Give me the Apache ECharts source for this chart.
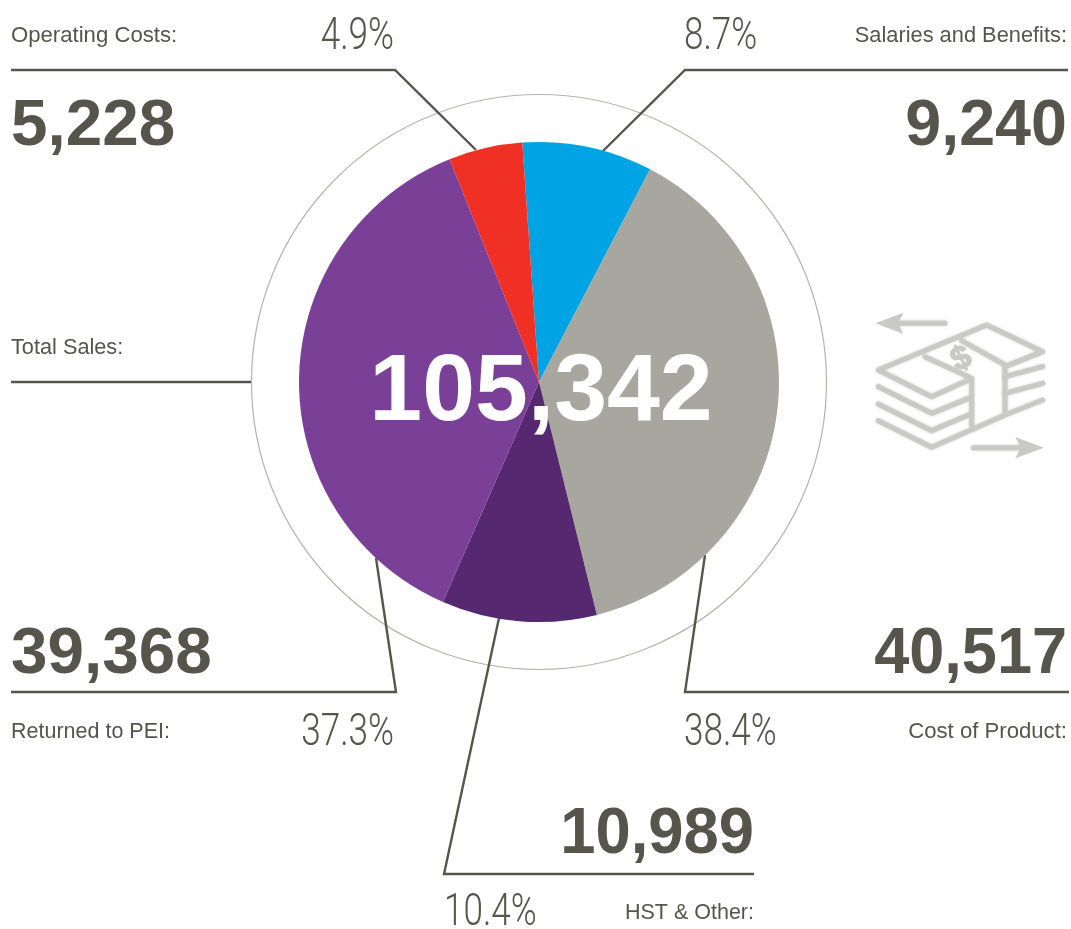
<!DOCTYPE html>
<html>
<head>
<meta charset="utf-8">
<title>Sales</title>
<script src="https://cdn.jsdelivr.net/npm/echarts@6/dist/echarts.min.js"></script>
<style>
    html, body { margin: 0; padding: 0; background: #fff; }
    #main { width: 1071px; height: 929px; }
</style>
</head>
<body>
<div id="main"></div>
<script>
    // chart data, clockwise from the blue slice
    var categories = ['Salaries and Benefits:', 'Cost of Product:', 'HST & Other:', 'Returned to PEI:', 'Operating Costs:'];
    var values = [9240, 40517, 10989, 39368, 5228];
    var percents = ['8.7%', '38.4%', '10.4%', '37.3%', '4.9%'];
    var colors = ['#00a4e4', '#a7a79f', '#55286f', '#7a4098', '#f03024'];
    var totalLabel = 'Total Sales:';
    var totalValue = 105342;

    var INK = '#55554c';
    var myChart = echarts.init(document.getElementById('main'));

    function fmt(n) { return n.toLocaleString('en-US'); }

    function txt(str, x, y, size, align, weight, family, sx) {
        return {
            type: 'text', x: x, y: y, z: 20, scaleX: sx || 1,
            style: {
                text: str, fill: INK, fontSize: size, fontWeight: weight || 'normal',
                fontFamily: family || 'Liberation Sans', align: align, verticalAlign: 'middle'
            }
        };
    }
    function label(str, x, y, align, sx) { return txt(str, x, y, 21.5, align, 'normal', null, sx || 1.03); }
    function big(n, x, y, align, sx) { return txt(fmt(n), x, y, 64, align, 'bold', null, sx || 1.025); }
    // the percent figures are a light condensed face, squeezed Roboto is the nearest
    function pct(str, x, y, align) { return txt(str, x, y, 45, align, 300, 'Roboto', 0.78); }

    function leader(points) {
        return {
            type: 'polyline', z: 5,
            shape: { points: points },
            style: { stroke: INK, lineWidth: 2.4, fill: null, lineJoin: 'miter' }
        };
    }

    var annotations = [
        label(categories[4], 11, 36, 'left'),
        big(values[4], 11, 127, 'left'),
        pct(percents[4], 394, 38, 'right'),
        leader([[11, 70], [395, 70], [476, 150]]),

        label(categories[0], 1067, 36, 'right', 1.015),
        big(values[0], 1067, 127, 'right', 1.01),
        pct(percents[0], 684, 38, 'left'),
        leader([[1068, 70], [685, 70], [603, 151]]),

        label(totalLabel, 11, 348, 'left', 1.01),
        leader([[11, 382], [251, 382]]),

        big(values[3], 11, 655, 'left'),
        label(categories[3], 11, 732, 'left', 1),
        pct(percents[3], 394, 734, 'right'),
        leader([[11, 692], [396, 692], [376, 558]]),

        big(values[1], 1067, 655, 'right', 0.985),
        label(categories[1], 1067, 732, 'right'),
        pct(percents[1], 684, 734, 'left'),
        leader([[1069, 692], [685, 692], [705, 555]]),

        big(values[2], 754, 835, 'right', 0.99),
        label(categories[2], 754, 913, 'right', 1),
        pct(percents[2], 444, 914, 'left'),
        leader([[754, 874], [444, 874], [499, 618]]),

        // outer ring
        {
            type: 'circle', z: 1,
            shape: { cx: 539, cy: 382, r: 287.5 },
            style: { stroke: '#b4b4ad', lineWidth: 1.2, fill: null }
        },
        // total in the middle of the pie
        {
            type: 'text', x: 541, y: 394, z: 30,
            style: {
                text: fmt(totalValue), fill: '#fff', fontSize: 95, fontWeight: 'bold',
                fontFamily: 'Liberation Sans', align: 'center', verticalAlign: 'middle'
            }
        }
    ];

    // money icon, coordinates taken at 3x
    var ICON = '#c9c9c7';
    function iconLine(points) {
        return {
            type: 'polyline',
            shape: { points: points },
            style: { stroke: ICON, lineWidth: 15, fill: null, lineJoin: 'round', lineCap: 'round', shadowBlur: 3, shadowColor: ICON }
        };
    }
    var icon = {
        type: 'group', x: 860, y: 300, scaleX: 1 / 3, scaleY: 1 / 3, z: 10,
        children: [
            iconLine([[325, 240], [215, 290], [55, 210], [380, 75], [548, 155], [435, 200]]),
            iconLine([[195, 170], [335, 235], [335, 375]]),
            iconLine([[305, 122], [435, 195], [435, 335]]),
            iconLine([[55, 260], [215, 340], [325, 295]]),
            iconLine([[55, 312], [215, 392], [325, 345]]),
            iconLine([[55, 362], [215, 442], [435, 345], [548, 300]]),
            iconLine([[435, 230], [548, 200]]),
            iconLine([[435, 280], [548, 250]]),
            iconLine([[112, 70], [255, 70]]),
            iconLine([[340, 443], [480, 443]]),
            { type: 'polygon', shape: { points: [[46, 70], [130, 38], [115, 70], [130, 102]] }, style: { fill: ICON } },
            { type: 'polygon', shape: { points: [[552, 443], [466, 411], [482, 443], [466, 475]] }, style: { fill: ICON } },
            {
                type: 'text', x: 305, y: 178, rotation: 0.45,
                style: { text: '$', fill: ICON, fontSize: 100, fontWeight: 'bold', fontFamily: 'Liberation Sans', align: 'center', verticalAlign: 'middle', stroke: ICON, lineWidth: 4 }
            }
        ]
    };

    var pieData = [];
    for (var i = 0; i < categories.length; i++) {
        pieData.push({ name: categories[i], value: values[i], itemStyle: { color: colors[i] } });
    }

    myChart.setOption({
        animation: false,
        backgroundColor: '#fff',
        series: [{
            type: 'pie',
            radius: [0, 240],
            center: [539, 382],
            startAngle: 94,
            clockwise: true,
            silent: true,
            label: { show: false },
            labelLine: { show: false },
            itemStyle: { borderWidth: 0 },
            z: 8,
            data: pieData
        }],
        graphic: annotations.concat([icon])
    });
</script>
</body>
</html>
